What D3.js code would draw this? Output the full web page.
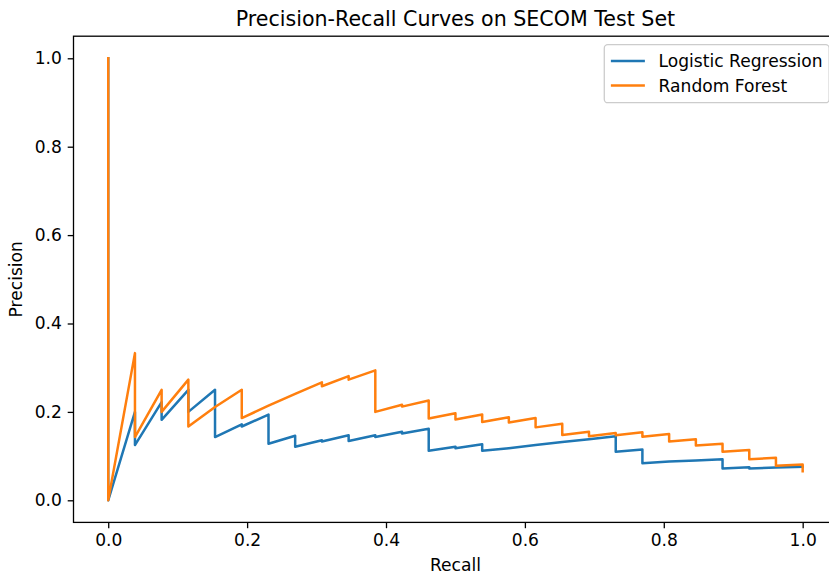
<!DOCTYPE html>
<html>
<head>
<meta charset="utf-8">
<script src="https://cdn.jsdelivr.net/npm/d3@7"></script>
<style>
  html, body { margin: 0; padding: 0; background: #fff; overflow: hidden; }
  svg { display: block; font-family: "DejaVu Sans", sans-serif; }
</style>
</head>
<body>
<svg id="chart" width="829" height="573"></svg>
<script>
// values
var seriesNames = ['Logistic Regression', 'Random Forest'];
var seriesColors = ['#1f77b4', '#ff7f0e'];

var lrRecall = [0, 0, 0.0385, 0.0385, 0.0769, 0.0769, 0.1154, 0.1154, 0.1538, 0.1538,
    0.1923, 0.1923, 0.2308, 0.2308, 0.2692, 0.2692, 0.3077, 0.3077, 0.3462, 0.3462,
    0.3846, 0.3846, 0.4231, 0.4231, 0.4615, 0.4615, 0.5, 0.5, 0.5385, 0.5385,
    0.5769, 0.6154, 0.6538, 0.6923, 0.7308, 0.7308, 0.7692, 0.7692, 0.8077, 0.8462,
    0.8846, 0.8846, 0.9231, 0.9231, 0.9615, 1.0];
var lrPrecision = [1.0, 0, 0.2, 0.125, 0.222, 0.182, 0.25, 0.2, 0.25, 0.143,
    0.172, 0.167, 0.194, 0.128, 0.146, 0.121, 0.136, 0.133, 0.147, 0.134,
    0.147, 0.143, 0.155, 0.151, 0.162, 0.112, 0.121, 0.118, 0.127, 0.112,
    0.118, 0.125, 0.132, 0.138, 0.145, 0.110, 0.115, 0.084, 0.088, 0.090,
    0.093, 0.072, 0.075, 0.072, 0.074, 0.076];

var rfRecall = [0, 0, 0.0385, 0.0385, 0.0769, 0.0769, 0.1154, 0.1154, 0.1538, 0.1923,
    0.1923, 0.2308, 0.2692, 0.3077, 0.3077, 0.3462, 0.3462, 0.3846, 0.3846, 0.4231,
    0.4231, 0.4615, 0.4615, 0.5, 0.5, 0.5385, 0.5385, 0.5769, 0.5769, 0.6154,
    0.6154, 0.6538, 0.6538, 0.6923, 0.6923, 0.7308, 0.7308, 0.7692, 0.7692, 0.8077,
    0.8077, 0.8462, 0.8462, 0.8846, 0.8846, 0.9231, 0.9231, 0.9615, 0.9615, 1.0, 1.0];
var rfPrecision = [1.0, 0, 0.333, 0.143, 0.25, 0.2, 0.273, 0.167, 0.211, 0.25,
    0.186, 0.214, 0.241, 0.267, 0.258, 0.281, 0.273, 0.294, 0.2, 0.216,
    0.212, 0.226, 0.185, 0.197, 0.183, 0.194, 0.177, 0.188, 0.176, 0.186,
    0.165, 0.173, 0.148, 0.155, 0.145, 0.152, 0.147, 0.154, 0.144, 0.15,
    0.133, 0.138, 0.124, 0.128, 0.11, 0.114, 0.093, 0.096, 0.078, 0.081, 0.066];

var xTicks = [0, 0.2, 0.4, 0.6, 0.8, 1.0];
var yTicks = [0, 0.2, 0.4, 0.6, 0.8, 1.0];

var titleText = 'Precision-Recall Curves on SECOM Test Set';
var xLabelText = 'Recall';
var yLabelText = 'Precision';

// layout (matplotlib-like, slightly scaled); note: "top" is taken by window.top
var plotL = 73.5, plotR = 837.4, plotT = 36.2, plotB = 522.4;
var fontSize = 17.1;
var titleSize = 20.6;
var tickLen = 5.8;

var svg = d3.select('#chart');

var x = d3.scaleLinear().domain([-0.05, 1.05]).range([plotL, plotR]);
var y = d3.scaleLinear().domain([-0.05, 1.05]).range([plotB, plotT]);

var fmt = d3.format('.1f');

// axes
var gx = svg.append('g')
    .attr('transform', 'translate(0,' + plotB + ')')
    .call(d3.axisBottom(x).tickValues(xTicks).tickFormat(fmt).tickSize(tickLen).tickPadding(tickLen));
var gy = svg.append('g')
    .attr('transform', 'translate(' + plotL + ',0)')
    .call(d3.axisLeft(y).tickValues(yTicks).tickFormat(fmt).tickSize(tickLen).tickPadding(tickLen));
[gx, gy].forEach(function (g) {
    g.select('.domain').remove();
    g.selectAll('.tick line').attr('stroke', '#000').attr('stroke-width', 1.3);
    g.selectAll('.tick text')
        .attr('fill', '#000')
        .style('font-size', fontSize + 'px')
        .style('font-family', '"DejaVu Sans", sans-serif');
});

// curves
var line = d3.line()
    .x(function (d) { return x(d[0]); })
    .y(function (d) { return y(d[1]); });

var curves = [
    d3.zip(lrRecall, lrPrecision),
    d3.zip(rfRecall, rfPrecision)
];

svg.append('clipPath').attr('id', 'plotclip')
    .append('rect')
    .attr('x', plotL).attr('y', plotT)
    .attr('width', plotR - plotL).attr('height', plotB - plotT);

svg.append('g')
    .attr('clip-path', 'url(#plotclip)')
    .selectAll('path')
    .data(curves)
    .enter().append('path')
    .attr('d', line)
    .attr('fill', 'none')
    .attr('stroke', function (d, i) { return seriesColors[i]; })
    .attr('stroke-width', 2.5)
    .attr('stroke-linejoin', 'round')
    .attr('stroke-linecap', 'square');

// spines
svg.append('rect')
    .attr('x', plotL).attr('y', plotT)
    .attr('width', plotR - plotL).attr('height', plotB - plotT)
    .attr('fill', 'none')
    .attr('stroke', '#000')
    .attr('stroke-width', 1.3);

// title and axis labels
svg.append('text')
    .attr('x', (plotL + plotR) / 2)
    .attr('y', plotT - 10)
    .attr('text-anchor', 'middle')
    .style('font-size', titleSize + 'px')
    .text(titleText);

svg.append('text')
    .attr('x', (plotL + plotR) / 2)
    .attr('y', 571)
    .attr('text-anchor', 'middle')
    .style('font-size', fontSize + 'px')
    .text(xLabelText);

svg.append('text')
    .attr('transform', 'translate(22,' + ((plotT + plotB) / 2) + ') rotate(-90)')
    .attr('text-anchor', 'middle')
    .style('font-size', fontSize + 'px')
    .text(yLabelText);

// legend, upper right
var pad = 6.6, rowGap = 24.5, handleLen = 34, textPad = 13.7;
var legend = svg.append('g');
var box = legend.append('rect')
    .attr('fill', '#fff')
    .attr('fill-opacity', 0.8)
    .attr('stroke', '#cccccc')
    .attr('stroke-width', 1.3)
    .attr('rx', 3.5);
var rows = legend.selectAll('g.row')
    .data(seriesNames)
    .enter().append('g')
    .attr('class', 'row');
rows.append('line')
    .attr('x1', 0).attr('x2', handleLen)
    .attr('y1', function (d, i) { return i * rowGap; })
    .attr('y2', function (d, i) { return i * rowGap; })
    .attr('stroke', function (d, i) { return seriesColors[i]; })
    .attr('stroke-width', 2.5);
rows.append('text')
    .attr('x', handleLen + textPad)
    .attr('y', function (d, i) { return i * rowGap; })
    .attr('dy', '0.36em')
    .style('font-size', fontSize + 'px')
    .text(function (d) { return d; });

var maxW = 0;
rows.selectAll('text').each(function () {
    maxW = Math.max(maxW, this.getComputedTextLength());
});
var boxW = pad * 2 + handleLen + textPad + maxW;
var boxH = 58;
var boxRight = plotR - 8.25;
var boxTop = plotT + 8.5;
box.attr('x', -pad).attr('y', -pad - 9.6)
    .attr('width', boxW).attr('height', boxH);
legend.attr('transform', 'translate(' + (boxRight - boxW + pad) + ',' + (boxTop + pad + 9.6) + ')');
</script>
</body>
</html>
